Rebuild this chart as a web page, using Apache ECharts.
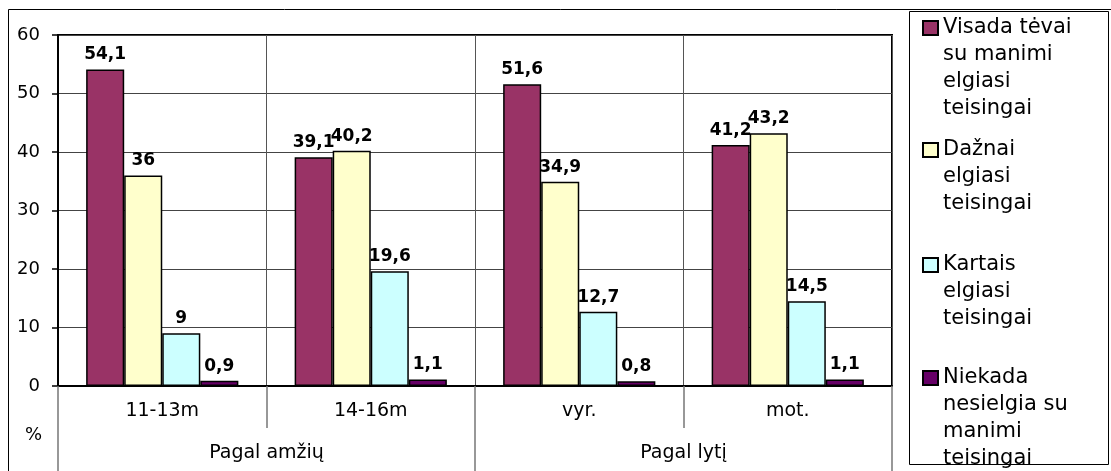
<!DOCTYPE html>
<html>
<head>
<meta charset="utf-8">
<script src="https://cdn.jsdelivr.net/npm/echarts@6/dist/echarts.min.js"></script>
<style>html,body{margin:0;padding:0;background:#fff}#c{width:1111px;height:471px}</style>
</head>
<body>
<div id="c"></div>
<script>
const categories = ['11-13m', '14-16m', 'vyr.', 'mot.'];
const groups = ['Pagal amžių', 'Pagal lytį'];
const seriesNames = [
  'Visada tėvai su manimi elgiasi teisingai',
  'Dažnai elgiasi teisingai',
  'Kartais elgiasi teisingai',
  'Niekada nesielgia su manimi teisingai'
];
const legendLines = [
  ['Visada tėvai', 'su manimi', 'elgiasi', 'teisingai'],
  ['Dažnai', 'elgiasi', 'teisingai'],
  ['Kartais', 'elgiasi', 'teisingai'],
  ['Niekada', 'nesielgia su', 'manimi', 'teisingai']
];
const visada = [54.1, 39.1, 51.6, 41.2];
const daznai = [36, 40.2, 34.9, 43.2];
const kartais = [9, 19.6, 12.7, 14.5];
const niekada = [0.9, 1.1, 0.8, 1.1];
const yTicks = [0, 10, 20, 30, 40, 50, 60];
const colors = ['#993366', '#FFFFCC', '#CCFFFF', '#660066'];

const FONT = 'DejaVu Sans';
const values = [visada, daznai, kartais, niekada];
const LH = 27;
const legendCenters = [28, 150, 265, 378];

const chart = echarts.init(document.getElementById('c'), null, {renderer: 'canvas'});

const series = values.map((v, i) => ({
  name: seriesNames[i],
  type: 'bar',
  xAxisIndex: 0,
  data: v,
  barGap: '0%',
  barCategoryGap: '27%',
  itemStyle: {color: colors[i], borderColor: '#000', borderWidth: 1.5},
  label: {
    show: true, position: 'top', distance: 6,
    fontFamily: FONT, fontWeight: 'bold', fontSize: 17, color: '#000',
    formatter: p => String(p.value).replace('.', ',')
  }
}));

const legends = seriesNames.map((name, i) => {
  const n = legendLines[i].length;
  // leading blank lines keep the first text line level with the marker
  const text = '\n'.repeat(n - 1) + legendLines[i].join('\n');
  return {
    data: [{name: name, icon: 'rect'}],
    orient: 'vertical',
    left: 922,
    top: legendCenters[i] - (2 * n - 1) * LH / 2,
    padding: 0,
    itemWidth: 15,
    itemHeight: 14,
    selectedMode: false,
    formatter: () => text,
    textStyle: {fontFamily: FONT, fontSize: 21, lineHeight: LH, color: '#000'}
  };
});

const option = {
  animation: false,
  backgroundColor: '#fff',
  graphic: [
    {type: 'rect', z: -10, shape: {x: 8.5, y: 9.5, width: 1110, height: 500}, style: {fill: 'none', stroke: '#000', lineWidth: 1}},
    {type: 'rect', z: -9, shape: {x: 909.5, y: 11.5, width: 199, height: 453}, style: {fill: '#fff', stroke: '#000', lineWidth: 1}}
  ],
  legend: legends,
  grid: {left: 58, right: 219, top: 35, bottom: 85, show: true, borderColor: '#000', borderWidth: 2, backgroundColor: '#fff'},
  xAxis: [
    {
      type: 'category', data: categories, position: 'bottom',
      axisLine: {show: true, lineStyle: {color: '#000', width: 2}},
      axisTick: {show: true, length: 42, lineStyle: {color: '#777', width: 1.5}},
      axisLabel: {margin: 16, fontFamily: FONT, fontSize: 19, color: '#000'},
      splitLine: {show: true, lineStyle: {color: '#555', width: 1}}
    },
    {
      type: 'category', data: groups, position: 'bottom',
      axisLine: {show: false},
      axisTick: {show: true, length: 85, lineStyle: {color: '#777', width: 1.5}},
      axisLabel: {margin: 58, fontFamily: FONT, fontSize: 19, color: '#000'},
      splitLine: {show: false}
    }
  ],
  yAxis: {
    type: 'value', min: 0, max: 60, interval: 10,
    name: '%', nameLocation: 'start', nameGap: 40,
    nameTextStyle: {fontFamily: FONT, fontSize: 18, color: '#000', align: 'right', padding: [0, 16, 0, 0]},
    axisLine: {show: true, lineStyle: {color: '#000', width: 2}},
    axisTick: {show: true, length: 6, lineStyle: {color: '#000', width: 1.5}},
    axisLabel: {margin: 18, fontFamily: FONT, fontSize: 18, color: '#000',
      formatter: v => yTicks.includes(v) ? String(v) : ''},
    splitLine: {show: true, lineStyle: {color: '#444', width: 1}}
  },
  series: series
};
chart.setOption(option);
</script>
</body>
</html>
